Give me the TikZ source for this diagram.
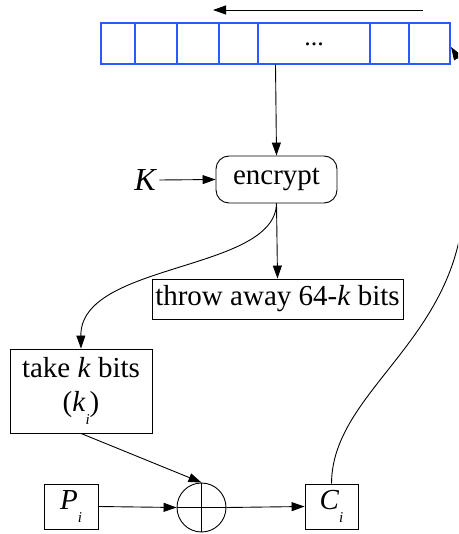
\documentclass[tikz,border=0pt]{standalone}
\usepackage{fontspec}
\setmainfont{Liberation Serif}
\usetikzlibrary{arrows.meta}
\definecolor{regblue}{RGB}{40,90,255}
\newcommand{\lowsub}[1]{\raisebox{-0.45em}{\fontsize{15}{15}\selectfont\textit{#1}}}

\begin{document}
\begin{tikzpicture}[x=1pt,y=-1pt,line width=0.9pt,
    >={Triangle[length=13pt,width=9pt]},
    txt/.style={font=\fontsize{29}{34}\selectfont},
    plainbox/.style={draw,txt,inner sep=0pt},
    cell/.style={draw=regblue,line width=1.1pt}]
  \useasboundingbox (0,0) rectangle (458,534);
  \clip (0,0) rectangle (458,534);
  % shift register
  \node[cell,minimum width=349,minimum height=41,inner sep=0pt] (reg) at (275.5,43.5) {};
  \foreach \xc in {135,177,219,258,370,409}
    \draw[regblue,line width=1.1pt] (\xc,23) -- (\xc,64);
  \node[font=\fontsize{26}{26}\selectfont] (dots) at (314,44) {...};
  \coordinate (shiftR) at (423,10);
  \coordinate (shiftL) at (213,10);
  \draw[->] (shiftR) -- (shiftL);
  % encryption
  \node[draw,txt,rounded corners=13pt,minimum width=121,minimum height=47,inner sep=0pt] (enc) at (276.5,179.5) {encrypt};
  \node[txt,font=\fontsize{32}{34}\selectfont\itshape] (key) at (145,180) {K};
  \node[plainbox,minimum width=251,minimum height=40] (throw) at (277.5,299) {throw away 64-\textit{k} bits};
  \node[plainbox,minimum width=142,minimum height=84,align=center] (take) at (81,391) {take \textit{k} bits\\(\textit{k}\lowsub{i})};
  % xor and in/out
  \node[draw,circle,minimum size=49,inner sep=0pt] (xor) at (201.5,507.5) {};
  \draw (xor.north) -- (xor.south) (xor.west) -- (xor.east);
  \node[plainbox,minimum width=54,minimum height=45] (plain) at (71,506.5) {\textit{P}\lowsub{i}};
  \node[plainbox,minimum width=53,minimum height=45] (ciph) at (331.5,506.5) {\textit{C}\lowsub{i}};
  % connectors
  \draw[->] (reg.south) -- (enc.north);
  \draw[->] (key.east) -- (enc.west);
  \draw[->] (enc.south) -- (throw.north);
  \draw[->] (enc.south) .. controls (275,272) and (80,262) .. (take.north);
  \draw[->] (take.south) -- (xor.north);
  \draw[->] (plain.east) -- (xor.west);
  \draw[->] (xor.east) -- (ciph.west);
  \draw[->] (ciph.north) .. controls (332,390) and (460,340) .. (464,200)
    .. controls (467,110) and (472,80) .. (451,47);
\end{tikzpicture}
\end{document}
